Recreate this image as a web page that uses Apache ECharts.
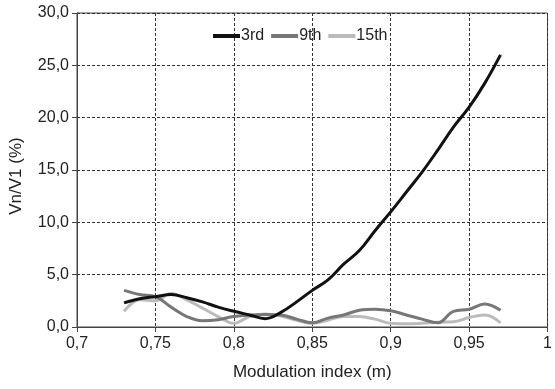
<!DOCTYPE html>
<html>
<head>
<meta charset="utf-8">
<script src="https://cdn.jsdelivr.net/npm/echarts@6/dist/echarts.min.js"></script>
<style>html,body{margin:0;padding:0;background:#fff}#c{width:555px;height:389px}</style>
</head>
<body>
<div id="c"></div>
<script>
var mIndex = [0.73,0.74,0.75,0.76,0.77,0.78,0.79,0.80,0.81,0.82,0.83,0.84,0.85,0.86,0.87,0.88,0.89,0.90,0.91,0.92,0.93,0.94,0.95,0.96,0.97];
var h3  = [2.3,2.7,2.9,3.1,2.8,2.4,1.9,1.5,1.15,0.8,1.4,2.4,3.5,4.5,6.0,7.3,9.2,11.0,12.9,14.8,16.9,19.1,21.0,23.3,26.0];
var h9  = [3.5,3.1,2.9,1.9,1.0,0.6,0.7,1.0,1.15,1.2,1.15,0.75,0.4,0.85,1.15,1.6,1.7,1.55,1.15,0.75,0.4,1.5,1.7,2.2,1.6];
var h15 = [1.5,2.6,2.5,3.2,2.6,1.8,1.0,0.35,1.0,1.25,1.05,0.65,0.35,0.65,1.0,1.0,0.75,0.35,0.3,0.35,0.45,0.5,0.9,1.15,0.4];
var seriesNames = ['3rd','9th','15th'];
var seriesColors = ['#111111','#777777','#bbbbbb'];

function pairs(arr){ return mIndex.map(function(x,i){ return [x, arr[i]]; }); }
var chart = echarts.init(document.getElementById('c'), null, {renderer:'canvas'});
var font = 'Liberation Sans, Arial, sans-serif';
chart.setOption({
  animation:false,
  grid:{left:77,right:2,top:13,bottom:62,show:true,borderColor:'#444',borderWidth:1},
  legend:{
    top:23,left:208,
    itemWidth:27,itemHeight:4,itemGap:7,icon:'rect',
    textStyle:{fontFamily:font,fontSize:16,color:'#222',padding:[0,0,0,-4]},
    data:seriesNames
  },
  xAxis:{
    type:'value',min:0.7,max:1,interval:0.05,
    name:'Modulation index (m)',nameLocation:'middle',nameGap:37,
    nameTextStyle:{fontFamily:font,fontSize:17,color:'#222'},
    axisLine:{show:true,lineStyle:{color:'#444',width:1}},
    axisTick:{show:true,length:5,lineStyle:{color:'#444'}},
    axisLabel:{fontFamily:font,fontSize:16,color:'#222',margin:9,
      formatter:function(v){ return String(Math.round(v*100)/100).replace('.',','); }},
    splitLine:{show:true,lineStyle:{color:'#333',type:[3,2],width:1}}
  },
  yAxis:{
    type:'value',min:0,max:30,interval:5,
    name:'Vn/V1 (%)',nameLocation:'middle',nameGap:52,
    nameTextStyle:{fontFamily:font,fontSize:17,color:'#222',padding:[0,0,0,-12]},
    axisLine:{show:true,lineStyle:{color:'#444',width:1}},
    axisTick:{show:true,length:5,lineStyle:{color:'#444'}},
    axisLabel:{fontFamily:font,fontSize:16,color:'#222',margin:8,
      formatter:function(v){ return v.toFixed(1).replace('.',','); }},
    splitLine:{show:true,lineStyle:{color:'#333',type:[3,2],width:1}}
  },
  series:[h3,h9,h15].map(function(arr,i){
    return {name:seriesNames[i],type:'line',data:pairs(arr),smooth:0.4,showSymbol:false,
      z:10-i,
      itemStyle:{color:seriesColors[i]},
      lineStyle:{color:seriesColors[i],width:3}};
  })
});
</script>
</body>
</html>
